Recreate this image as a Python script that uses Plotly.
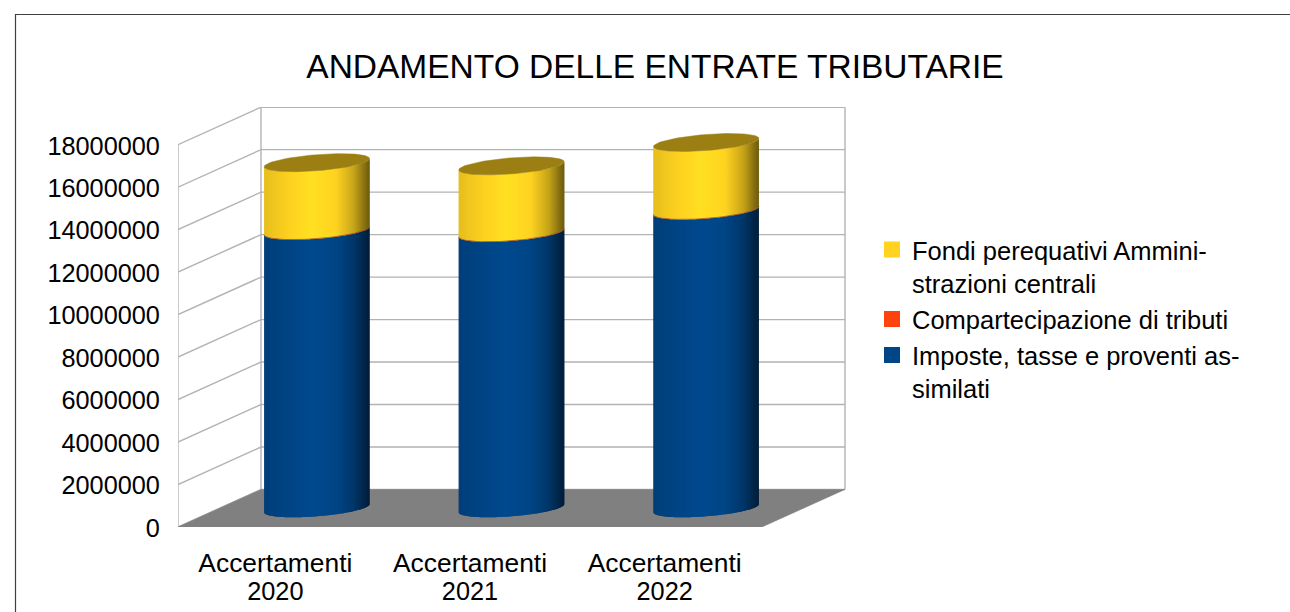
import math
import plotly.graph_objects as go

# ---- data ----
categories = ["Accertamenti", "Accertamenti", "Accertamenti"]
years = ["2020", "2021", "2022"]
imposte = [13070000, 12970000, 14020000]
compartecipazione = [0, 0, 0]
fondi = [3200000, 3150000, 3200000]
tick_values = list(range(0, 18000001, 2000000))

name_fondi = "Fondi perequativi Ammini-<br>strazioni centrali"
name_comp = "Compartecipazione di tributi"
name_imp = "Imposte, tasse e proventi as-<br>similati"
title_text = "ANDAMENTO DELLE ENTRATE TRIBUTARIE"

# ---- styling / projection ----
W, H = 1290, 612
PX_L, PX_R, PX_T, PX_B = 178.0, 846.0, 107.0, 527.0
CAT_PX = 194.67            # pixels per category
VAL_PX = 21.24 / 1e6       # pixels per unit of value
DEPTH_X = 83.0 / CAT_PX    # oblique depth, in category units
DEPTH_V = 37.5 / VAL_PX    # oblique depth, in value units
R_X = 47.0 / CAT_PX
SHEAR_X = 24.0 / CAT_PX
R_V = 9.0 / VAL_PX
C_BLUE, C_YEL, C_ORG = "#004586", "#ffd320", "#ff420e"
C_GRID, C_FLOOR, C_CAP = "#b3b3b3", "#808080", "#9b7f12"
FONT = "Liberation Sans"
N_STRIPS = 60


def proj(cat, depth, val):
    return cat + depth * DEPTH_X, val + depth * DEPTH_V


def shade(hex_c, u):
    stops = [(0, .90), (.12, .95), (.45, 1.06), (.68, 1.0), (.85, .78), (1, .42)]
    for (u0, f0), (u1, f1) in zip(stops, stops[1:]):
        if u <= u1:
            f = f0 + (f1 - f0) * (u - u0) / (u1 - u0)
            break
    rgb = [int(hex_c[i:i + 2], 16) for i in (1, 3, 5)]
    return "rgb(%d,%d,%d)" % tuple(min(255, round(c * f)) for c in rgb)


def rim(cat, val, t):
    cx, cv = proj(cat, .5, val)
    return cx + R_X * math.cos(t) + SHEAR_X * math.sin(t), cv + R_V * math.sin(t)


fig = go.Figure()
hide = dict(showlegend=False, hoverinfo="skip")

# walls: gridlines on the side wall and the back wall
gx, gy = [], []
for v in tick_values:
    x0, y0 = proj(-.5, 0, v)
    x1, y1 = proj(-.5, 1, v)
    x2, y2 = proj(2.5, 1, v)
    gx += [x0, x1, x2, None]
    gy += [y0, y1, y2, None]
for cat, d in ((-.5, 0), (-.5, 1), (2.5, 1)):
    x0, y0 = proj(cat, d, 0)
    x1, y1 = proj(cat, d, tick_values[-1])
    gx += [x0, x1, None]
    gy += [y0, y1, None]
fig.add_trace(go.Scatter(x=gx, y=gy, mode="lines", line=dict(color=C_GRID, width=1.4), **hide))

# floor
corners = [proj(-.5, 0, 0), proj(2.5, 0, 0), proj(2.5, 1, 0), proj(-.5, 1, 0), proj(-.5, 0, 0)]
fig.add_trace(go.Scatter(x=[c[0] for c in corners], y=[c[1] for c in corners], mode="lines",
                         fill="toself", fillcolor=C_FLOOR, line=dict(color=C_FLOOR, width=0.5), **hide))

# cylinders: overlapping vertical strips for the shaded sides
t0 = math.atan2(SHEAR_X, R_X)
extent = math.hypot(R_X, SHEAR_X)
stacks = [(C_BLUE, [0, 0, 0], imposte),
          (C_YEL, [a + b for a, b in zip(imposte, compartecipazione)],
           [a + b + c for a, b, c in zip(imposte, compartecipazione, fondi)])]
for color, lows, highs in stacks:
    for j in range(N_STRIPS):
        ang = [t0 + math.pi + math.pi * min(k, N_STRIPS) / N_STRIPS for k in (j, j + 1, j + 2)]
        tm = (ang[0] + ang[1]) / 2
        u = (R_X * math.cos(tm) + SHEAR_X * math.sin(tm) + extent) / (2 * extent)
        xs, ys = [], []
        for i in range(len(years)):
            p = [rim(i, lows[i], t) for t in ang] + [rim(i, highs[i], t) for t in reversed(ang)]
            p.append(p[0])
            xs += [q[0] for q in p] + [None]
            ys += [q[1] for q in p] + [None]
        fig.add_trace(go.Scatter(x=xs, y=ys, mode="none", fill="toself", fillcolor=shade(color, u), **hide))

ts = [2 * math.pi * k / 90 for k in range(91)]
fr = [t0 + math.pi + math.pi * k / 40 for k in range(41)]
for i in range(len(years)):
    base = imposte[i] + compartecipazione[i]
    # seam left by the (zero height) Compartecipazione series
    seam = [rim(i, base, t) for t in fr]
    fig.add_trace(go.Scatter(x=[q[0] for q in seam], y=[q[1] for q in seam], mode="lines",
                             line=dict(color="#a04a30", width=0.8), **hide))
    top = [rim(i, base + fondi[i], t) for t in ts]
    fig.add_trace(go.Scatter(x=[q[0] for q in top], y=[q[1] for q in top], mode="lines", fill="toself",
                             fillcolor=C_CAP, line=dict(color=C_CAP, width=0.5), **hide))

# legend entries
for name, col in ((name_fondi, C_YEL), (name_comp, C_ORG), (name_imp, C_BLUE)):
    fig.add_trace(go.Scatter(x=[None], y=[None], mode="markers", name=name,
                             marker=dict(symbol="square", size=16, color=col), hoverinfo="skip"))

# second axis line of the category labels
fig.add_trace(go.Scatter(x=[None], y=[None], xaxis="x2", showlegend=False, hoverinfo="skip"))

plot_w = PX_R - PX_L
xr = [-.5, -.5 + plot_w / CAT_PX]
yr = [0, (PX_B - PX_T) / VAL_PX]
fnt = lambda s: dict(family=FONT, size=s, color="#000000")
fig.update_layout(
    width=W, height=H, paper_bgcolor="white", plot_bgcolor="rgba(0,0,0,0)",
    margin=dict(l=PX_L, r=W - PX_R, t=PX_T, b=H - PX_B, pad=0, autoexpand=False),
    font=dict(family=FONT, color="#000000"),
    title=dict(text=title_text, x=655 / W, xanchor="center", y=1 - 66 / H, yanchor="middle",
               font=fnt(33.5)),
    xaxis=dict(range=xr, tickmode="array", tickvals=[0, 1, 2], ticktext=categories, showgrid=False,
               zeroline=False, showline=False, ticks="outside", ticklen=12, tickcolor="rgba(0,0,0,0)",
               tickfont=fnt(26.4)),
    xaxis2=dict(range=xr, overlaying="x", side="bottom", anchor="y", tickmode="array", tickvals=[0, 1, 2],
                ticktext=years, showgrid=False, zeroline=False, showline=False, ticks="outside", ticklen=42,
                tickcolor="rgba(0,0,0,0)", tickfont=fnt(25.3)),
    yaxis=dict(range=yr, tickmode="array", tickvals=tick_values, ticktext=[str(v) for v in tick_values],
               showgrid=False, zeroline=False, showline=False, ticks="outside", ticklen=12,
               tickcolor="rgba(0,0,0,0)", tickfont=fnt(25.3), ticklabelshift=1),
    legend=dict(x=872 / W, xref="container", y=1 - 226.5 / H, yref="container", xanchor="left", yanchor="top",
                font=fnt(25.5), bgcolor="rgba(0,0,0,0)", itemsizing="trace", valign="top",
                tracegroupgap=0, borderwidth=0),
    shapes=[dict(type="rect", xref="paper", yref="paper", layer="below",
                 x0=(15.5 - PX_L) / plot_w, x1=(W + 20 - PX_L) / plot_w,
                 y0=-(H + 20 - PX_B) / (PX_B - PX_T), y1=(PX_B - 14.5) / (PX_B - PX_T),
                 line=dict(color="#3f3f3f", width=1.2), fillcolor="rgba(0,0,0,0)")],
)
fig.write_html("out.html", config=dict(displayModeBar=False),
               post_script="document.body.style.margin='0';document.body.style.overflow='hidden';")
